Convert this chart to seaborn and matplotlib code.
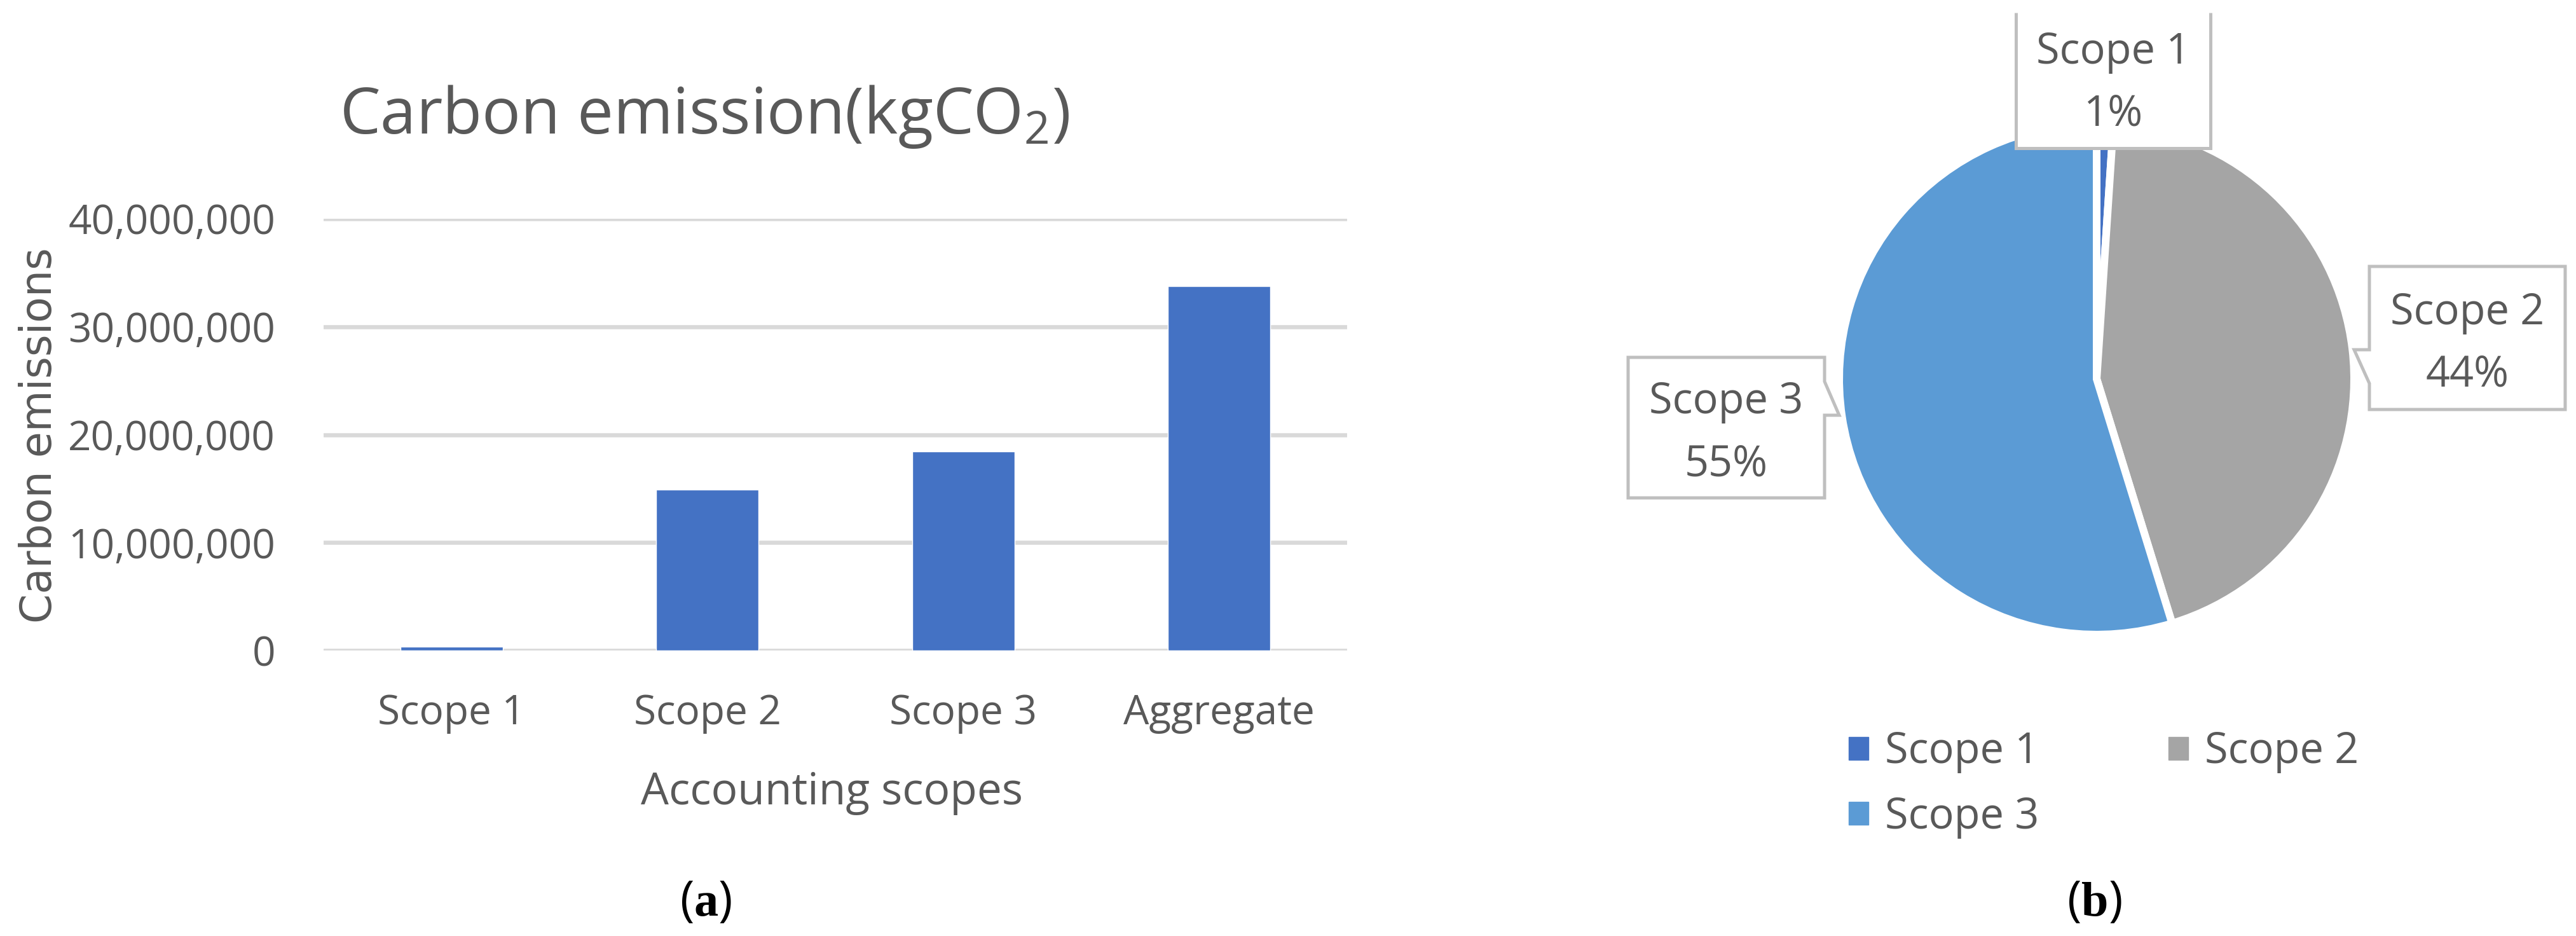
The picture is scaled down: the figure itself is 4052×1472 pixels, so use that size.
import matplotlib
matplotlib.use("Agg")
import matplotlib.pyplot as plt
import matplotlib.patches as mpatches
import matplotlib.transforms as mtransforms
import seaborn as sns
import pandas as pd
from matplotlib.ticker import FuncFormatter

# ---- data ----
bar_categories = ["Scope 1", "Scope 2", "Scope 3", "Aggregate"]
bar_values = [350000, 14900000, 18440000, 33780000]
pie_labels = ["Scope 1", "Scope 2", "Scope 3"]
pie_values = [350000, 14900000, 18440000]
pie_pct_labels = ["1%", "44%", "55%"]
y_ticks = [0, 10000000, 20000000, 30000000, 40000000]

BAR_COLOR = "#4472C4"
PIE_COLORS = ["#4472C4", "#A5A5A5", "#5B9BD5"]
TXT = "#595959"
GRID = "#D9D9D9"
BOX_EDGE = "#BFBFBF"

sns.set_theme(style="white")
plt.rcParams["font.family"] = ["Open Sans", "DejaVu Sans"]
plt.rcParams["mathtext.fontset"] = "custom"
plt.rcParams["mathtext.rm"] = "Liberation Serif"
plt.rcParams["mathtext.bf"] = "Liberation Serif:bold"

W, H = 4052, 1472
PX = 72 / 100  # points per pixel at dpi 100
fig = plt.figure(figsize=(W / 100, H / 100), dpi=100)
fig.patch.set_facecolor("white")

# ---- bar chart ----
ax = fig.add_axes([509 / W, 1 - 1023 / H, 1610 / W, 679 / H])
df = pd.DataFrame({"scope": bar_categories, "value": bar_values})
sns.barplot(data=df, x="scope", y="value", color=BAR_COLOR, width=0.4,
            saturation=1, ax=ax, zorder=3)
ax.set_ylim(0, 40000000)
ax.set_xlim(-0.5, 3.5)
ax.set_yticks(y_ticks)
ax.yaxis.set_major_formatter(FuncFormatter(lambda v, p: f"{int(v):,}"))
ax.grid(axis="y", color=GRID, linewidth=6.5 * PX, zorder=0)
ax.set_axisbelow(True)
for s in ax.spines.values():
    s.set_visible(False)
ax.tick_params(axis="both", length=0, labelsize=46, labelcolor=TXT)
ax.tick_params(axis="y", pad=76 * PX)
ax.tick_params(axis="x", pad=67 * PX)
ax.set_xlabel("")
ax.set_ylabel("")
fig.text(1309 / W, 1 - 1265 / H, "Accounting scopes", fontsize=50, color=TXT,
         ha="center", va="baseline")
fig.text(62 / W, 1 - 685 / H, "Carbon emissions", rotation=90, fontsize=48,
         color=TXT, ha="center", va="center", family="DejaVu Sans")
fig.text(534 / W, 1 - 210 / H, "Carbon emission(kgCO$_\\mathregular{2}$)",
         fontsize=73, color=TXT, ha="left", va="baseline")

# ---- pie chart ----
cx, cy, rx, ry = 3298, 596, 405, 402
pax = fig.add_axes([(cx - rx) / W, 1 - (cy + ry) / H, 2 * rx / W, 2 * ry / H])
wedges, _ = pax.pie(pie_values, colors=PIE_COLORS, startangle=90, counterclock=False,
                    wedgeprops=dict(edgecolor="white", linewidth=12 * PX))
pax.set_aspect("auto")
pax.set_xlim(-1, 1)
pax.set_ylim(-1, 1)
pax.axis("off")

# callout boxes: anchor in pie data coords, outline in pixel offsets
anchors = [(26 / rx, 474 / ry), (583 / rx, 64.5 / ry), (-582.5 / rx, -76.5 / ry)]
outlines = [
    ([(-153, 102), (-153, -111), (153, -111), (153, 102)], False),
    ([(-154, -112.5), (154, -112.5), (154, 112.5), (-154, 112.5), (-154, -18.5),
      (-178, -18.5), (-154, -71.5)], True),
    ([(-154.5, -110.5), (154.5, -110.5), (154.5, 19.5), (177.5, 19.5),
      (154.5, 72.5), (154.5, 110.5), (-154.5, 110.5)], True),
]
for (axx, axy), (verts, closed), name, pct in zip(anchors, outlines, pie_labels,
                                                 pie_pct_labels):
    tr = mtransforms.Affine2D() + mtransforms.ScaledTranslation(axx, axy, pax.transData)
    poly = mpatches.Polygon(verts, closed=closed, transform=tr, facecolor="white",
                            edgecolor=BOX_EDGE, linewidth=5 * PX, clip_on=False,
                            zorder=5)
    pax.add_patch(poly)
    pax.annotate(name, (axx, axy), xytext=(0, 22 * PX), textcoords="offset points",
                 ha="center", va="baseline", fontsize=48, color=TXT,
                 annotation_clip=False, zorder=6)
    pax.annotate(pct, (axx, axy), xytext=(0, -76 * PX), textcoords="offset points",
                 ha="center", va="baseline", fontsize=48, color=TXT,
                 annotation_clip=False, zorder=6)

order = [0, 2, 1]
handles = [mpatches.Patch(color=PIE_COLORS[i], label=pie_labels[i]) for i in order]
leg = fig.legend(handles=handles, ncol=2, loc="upper left",
                 bbox_to_anchor=(2908 / W, 1 - 1149 / H), frameon=False,
                 fontsize=48, handlelength=0.465, handleheight=0.465,
                 handletextpad=0.39, columnspacing=3.05, labelspacing=0.52,
                 borderpad=0, borderaxespad=0, labelcolor=TXT)

# ---- captions ----
fig.text(1110 / W, 1 - 1420 / H, r"$\mathregular{(}\mathbf{a}\mathregular{)}$",
         fontsize=55, color="black", ha="center", va="center")
fig.text(3294 / W, 1 - 1420 / H, r"$\mathregular{(}\mathbf{b}\mathregular{)}$",
         fontsize=55, color="black", ha="center", va="center")

fig.savefig("out.png", dpi=100, facecolor="white")
